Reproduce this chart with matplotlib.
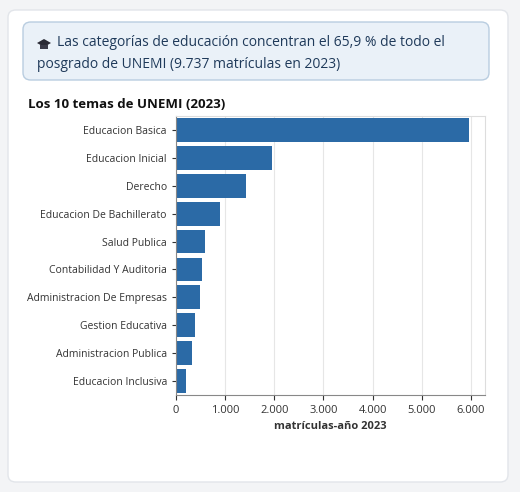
import matplotlib.pyplot as plt
from matplotlib.patches import FancyBboxPatch, Polygon
from matplotlib.ticker import FuncFormatter

temas = ["Educacion Basica", "Educacion Inicial", "Derecho", "Educacion De Bachillerato",
         "Salud Publica", "Contabilidad Y Auditoria", "Administracion De Empresas",
         "Gestion Educativa", "Administracion Publica", "Educacion Inclusiva"]
matriculas = [5960, 1950, 1425, 895, 590, 530, 490, 390, 325, 205]
x_ticks = [0, 1000, 2000, 3000, 4000, 5000, 6000]

plt.rcParams['font.family'] = ['Open Sans', 'DejaVu Sans']

W, H = 520, 492
fig = plt.figure(figsize=(5.2, 4.92), dpi=100)
fig.patch.set_facecolor('#f3f4f6')

# tarjeta blanca
card = FancyBboxPatch((8/W, 10/H), 500/W, 472/H, boxstyle="round,pad=0,rounding_size=0.015",
                      transform=fig.transFigure, facecolor='white', edgecolor='#e2e5ea', lw=1, zorder=-2)
fig.patches.append(card)
# caja del titular
box = FancyBboxPatch((23/W, 412/H), 466/W, 58/H, boxstyle="round,pad=0,rounding_size=0.015",
                     transform=fig.transFigure, facecolor='#eaf1f8', edgecolor='#b9cde0', lw=1, zorder=-1)
fig.patches.append(box)
# birrete (el emoji no existe en las fuentes instaladas)
cap = Polygon([(37/W, 449/H), (44/W, 453/H), (51/W, 449/H), (44/W, 445/H)],
              closed=True, transform=fig.transFigure, facecolor='#2a2a35', edgecolor='none')
fig.patches.append(cap)
cap2 = Polygon([(40/W, 447/H), (48/W, 447/H), (48/W, 443/H), (40/W, 443/H)],
               closed=True, transform=fig.transFigure, facecolor='#3a3a48', edgecolor='none')
fig.patches.append(cap2)
fig.text(57/W, 449/H, "Las categorías de educación concentran el 65,9 % de todo el",
         fontsize=10, color='#1f3a5a', va='center', fontweight='medium')
fig.text(37/W, 428/H, "posgrado de UNEMI (9.737 matrículas en 2023)",
         fontsize=10, color='#1f3a5a', va='center', fontweight='medium')
fig.text(28/W, 388/H, "Los 10 temas de UNEMI (2023)", fontsize=9.5, fontweight='bold',
         color='#111111', va='center')

ax = fig.add_axes([176/W, 97/H, 309/W, 279/H])
ax.barh(range(len(temas)), matriculas, height=0.85, color='#2b6aa6')
ax.set_yticks(range(len(temas)))
ax.set_yticklabels(temas, fontsize=7.5, color='#333333')
ax.set_ylim(len(temas) - 0.5, -0.5)
ax.set_xlim(0, 6285)
ax.set_xticks(x_ticks)
ax.xaxis.set_major_formatter(FuncFormatter(lambda v, p: f"{int(v):,}".replace(",", ".")))
ax.tick_params(axis='x', labelsize=8, colors='#333333')
ax.tick_params(axis='y', length=3, colors='#333333')
ax.grid(axis='x', color='#e6e6e6', lw=0.8)
ax.set_axisbelow(True)
for s in ['top', 'right']:
    ax.spines[s].set_color('#dddddd')
for s in ['left', 'bottom']:
    ax.spines[s].set_color('#888888')
ax.set_xlabel("matrículas-año 2023", fontsize=8, fontweight='bold', color='#333333')

fig.savefig("out.png", dpi=100, facecolor=fig.get_facecolor())
